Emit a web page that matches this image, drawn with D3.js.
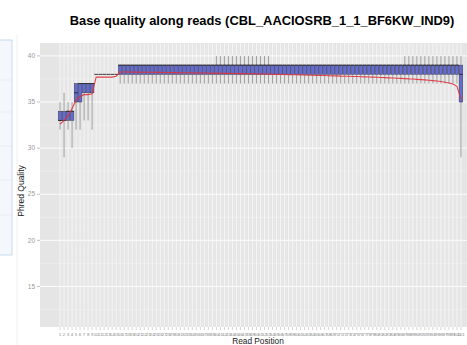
<!DOCTYPE html>
<html><head><meta charset="utf-8">
<script src="https://cdn.jsdelivr.net/npm/d3@7"></script>
<style>body{margin:0;background:#fff}svg{display:block}</style>
</head><body>
<svg id="c" width="467" height="345"></svg>
<script>
// ---- data ----
const positions = d3.range(1, 102);
const lowerW = [
  32,29,32,30,32,32,33,33,32,
  38,38,38,38,38,38,
  37,37,37,37,37,37,37,37,37,37,
  37,37,37,37,37,37,37,37,37,37,
  37,37,37,37,37,37,37,37,37,37,
  37,37,37,37,37,37,37,37,37,37,
  37,37,37,37,37,37,37,37,37,37,
  37,37,37,37,37,37,37,37,37,37,
  37,37,37,37,37,37,37,37,37,37,
  37,37,37,37,37,37,37,37,37,37,
  37,37,37,37,37,
  29];
const q1 = [
  33,33,33,33,35,35,36,36,36,
  38,38,38,38,38,38,
  38,38,38,38,38,38,38,38,38,38,
  38,38,38,38,38,38,38,38,38,38,
  38,38,38,38,38,38,38,38,38,38,
  38,38,38,38,38,38,38,38,38,38,
  38,38,38,38,38,38,38,38,38,38,
  38,38,38,38,38,38,38,38,38,38,
  38,38,38,38,38,38,38,38,38,38,
  38,38,38,38,38,38,38,38,38,38,
  38,38,38,38,38,
  35];
const median = [
  33,33,34,34,36,37,37,37,37,
  38,38,38,38,38,38,
  39,39,39,39,39,39,39,39,39,39,
  39,39,39,39,39,39,39,39,39,39,
  39,39,39,39,39,39,39,39,39,39,
  39,39,39,39,39,39,39,39,39,39,
  39,39,39,39,39,39,39,39,39,39,
  39,39,39,39,39,39,39,39,39,39,
  39,39,39,39,39,39,39,39,39,39,
  39,39,39,39,39,39,39,39,39,39,
  39,39,39,39,39,
  38];
const q3 = [
  34,34,34,34,37,37,37,37,37,
  38,38,38,38,38,38,
  39,39,39,39,39,39,39,39,39,39,
  39,39,39,39,39,39,39,39,39,39,
  39,39,39,39,39,39,39,39,39,39,
  39,39,39,39,39,39,39,39,39,39,
  39,39,39,39,39,39,39,39,39,39,
  39,39,39,39,39,39,39,39,39,39,
  39,39,39,39,39,39,39,39,39,39,
  39,39,39,39,39,39,39,39,39,39,
  39,39,39,39,39,
  39];
const upperW = [
  35,36,35,35,37,37,37,37,37,
  38,38,38,38,38,38,
  39,39,39,39,39,39,39,39,39,39,   // 16-25
  39,39,39,39,39,39,39,39,39,39,   // 26-35
  39,39,39,39,40,40,40,40,40,40,   // 36-45
  40,40,40,40,40,40,40,40,39,39,   // 46-55
  39,39,39,39,39,39,39,39,39,39,   // 56-65
  39,39,39,39,39,39,39,39,39,39,   // 66-75
  39,39,39,39,39,39,39,39,39,39,   // 76-85
  39,40,40,40,40,40,40,40,40,40,   // 86-95
  40,40,40,40,40,                  // 96-100
  40];
const meanQ = [
  32.6,33.0,33.5,34.3,35.2,35.6,35.8,35.8,35.9,
  37.7,37.7,37.7,37.7,37.7,37.8,
  38.25,38.25,38.25,38.24,38.24,38.23,38.23,38.22,38.22,38.21,
  38.21,38.2,38.2,38.19,38.19,38.18,38.18,38.17,38.17,38.16,
  38.15,38.15,38.14,38.13,38.13,38.12,38.11,38.11,38.1,38.09,
  38.08,38.08,38.07,38.06,38.05,38.04,38.03,38.02,38.01,38.0,
  37.99,37.98,37.97,37.96,37.95,37.94,37.93,37.92,37.9,37.89,
  37.88,37.87,37.85,37.84,37.83,37.81,37.8,37.79,37.77,37.76,
  37.74,37.73,37.71,37.7,37.68,37.66,37.64,37.62,37.6,37.58,
  37.56,37.54,37.51,37.49,37.46,37.43,37.4,37.36,37.32,37.28,
  37.22,37.15,37.06,36.95,36.7,
  35.3];
const yTicks = [15, 20, 25, 30, 35, 40];
const titleText = "Base quality along reads (CBL_AACIOSRB_1_1_BF6KW_IND9)";
const xTitle = "Read Position";
const yTitle = "Phred Quality";

// ---- layout ----
const svg = d3.select("#c");
const P = {l: 40, r: 481, t: 43, b: 327};
const x = d3.scaleLinear().domain([-4, 106]).range([P.l, P.r]);
const y = d3.scaleLinear().domain([10.6, 41.4]).range([P.b, P.t]);
const FONT = "'Liberation Sans', Arial, Helvetica, sans-serif";

// left-edge artefacts of the screenshot
svg.append("rect").attr("x", -1).attr("y", 40).attr("width", 13).attr("height", 215)
  .attr("fill", "#f4f8fc").attr("stroke", "#b9d3ea").attr("stroke-width", 0.8);
[80, 112, 146, 180, 215].forEach(v => svg.append("line").attr("x1", 0).attr("x2", 12)
  .attr("y1", v).attr("y2", v).attr("stroke", "#dde8f2").attr("stroke-width", 0.6));
svg.append("line").attr("x1", 17).attr("x2", 17).attr("y1", 35).attr("y2", 345)
  .attr("stroke", "#ececec").attr("stroke-width", 0.8);

// panel
svg.append("clipPath").attr("id", "pc").append("rect")
  .attr("x", P.l).attr("y", P.t).attr("width", P.r - P.l).attr("height", P.b - P.t);
svg.append("rect").attr("x", P.l).attr("y", P.t).attr("width", P.r - P.l).attr("height", P.b - P.t)
  .attr("fill", "#e5e5e5");
const g = svg.append("g").attr("clip-path", "url(#pc)");
d3.range(12.5, 41, 5).forEach(v => g.append("line").attr("x1", P.l).attr("x2", P.r)
  .attr("y1", y(v)).attr("y2", y(v)).attr("stroke", "#f2f2f2").attr("stroke-width", 0.5));
positions.slice(1).forEach(p => g.append("line").attr("y1", P.t).attr("y2", P.b)
  .attr("x1", x(p - 0.5)).attr("x2", x(p - 0.5)).attr("stroke", "#ededed").attr("stroke-width", 0.4));
yTicks.forEach(v => g.append("line").attr("x1", P.l).attr("x2", P.r)
  .attr("y1", y(v)).attr("y2", y(v)).attr("stroke", "#fff").attr("stroke-width", 0.9));
positions.forEach(p => g.append("line").attr("y1", P.t).attr("y2", P.b)
  .attr("x1", x(p)).attr("x2", x(p)).attr("stroke", "#fafafa").attr("stroke-width", 0.8));

// boxplots
const data = positions.map((p, i) => ({p, lo: lowerW[i], q1: q1[i], md: median[i], q3: q3[i], hi: upperW[i], mn: meanQ[i]}));
const hw = (x(2) - x(1)) * 0.45;
const bx = svg.append("g").attr("clip-path", "url(#pc)");
bx.selectAll("line.wl").data(data).join("line").attr("class", "wl")
  .attr("x1", d => x(d.p)).attr("x2", d => x(d.p)).attr("y1", d => y(d.lo)).attr("y2", d => y(d.q1))
  .attr("stroke", "#8a8a8a").attr("stroke-width", 0.8);
bx.selectAll("line.wh").data(data).join("line").attr("class", "wh")
  .attr("x1", d => x(d.p)).attr("x2", d => x(d.p)).attr("y1", d => y(d.q3)).attr("y2", d => y(d.hi))
  .attr("stroke", "#8a8a8a").attr("stroke-width", 0.8);
bx.selectAll("rect").data(data).join("rect")
  .attr("x", d => x(d.p) - hw).attr("width", hw * 2)
  .attr("y", d => y(d.q3)).attr("height", d => Math.max(0, y(d.q1) - y(d.q3)))
  .attr("fill", "#646cce").attr("stroke", "#3a3a4a").attr("stroke-width", 0.5);
bx.selectAll("line.md").data(data).join("line").attr("class", "md")
  .attr("x1", d => x(d.p) - hw).attr("x2", d => x(d.p) + hw).attr("y1", d => y(d.md)).attr("y2", d => y(d.md))
  .attr("stroke", "#222").attr("stroke-width", 0.9);

// mean line
bx.append("path").datum(data)
  .attr("d", d3.line().x(d => x(d.p)).y(d => y(d.mn)))
  .attr("fill", "none").attr("stroke", "#e0323c").attr("stroke-width", 1.1).attr("stroke-opacity", 0.9);

// y axis
const ya = svg.append("g");
yTicks.forEach(v => {
  ya.append("line").attr("x1", P.l - 3).attr("x2", P.l).attr("y1", y(v)).attr("y2", y(v))
    .attr("stroke", "#999").attr("stroke-width", 0.6);
  ya.append("text").attr("x", P.l - 5).attr("y", y(v)).attr("dy", "0.35em")
    .attr("text-anchor", "end").attr("font-family", FONT).attr("font-size", 6.5)
    .attr("fill", "#999").text(v);
});
// x axis
const xa = svg.append("g");
positions.forEach(p => {
  xa.append("line").attr("x1", x(p)).attr("x2", x(p)).attr("y1", P.b).attr("y2", P.b + 3)
    .attr("stroke", "#aaa").attr("stroke-width", 0.5);
  xa.append("text").attr("x", x(p)).attr("y", P.b + 9).attr("text-anchor", "middle")
    .attr("font-family", FONT).attr("font-size", 4.4).attr("fill", "#888").text(p);
});

// titles
svg.append("text").attr("x", 262).attr("y", 25).attr("text-anchor", "middle")
  .attr("font-family", FONT).attr("font-weight", "bold").attr("font-size", 12.9)
  .attr("fill", "#000").text(titleText);
svg.append("text").attr("x", 258).attr("y", 344).attr("text-anchor", "middle")
  .attr("font-family", FONT).attr("font-size", 8.3).attr("fill", "#1a1a1a").text(xTitle);
svg.append("text").attr("transform", "translate(24,191) rotate(-90)").attr("text-anchor", "middle")
  .attr("font-family", FONT).attr("font-size", 8.5).attr("fill", "#1a1a1a").text(yTitle);
</script>
</body></html>
